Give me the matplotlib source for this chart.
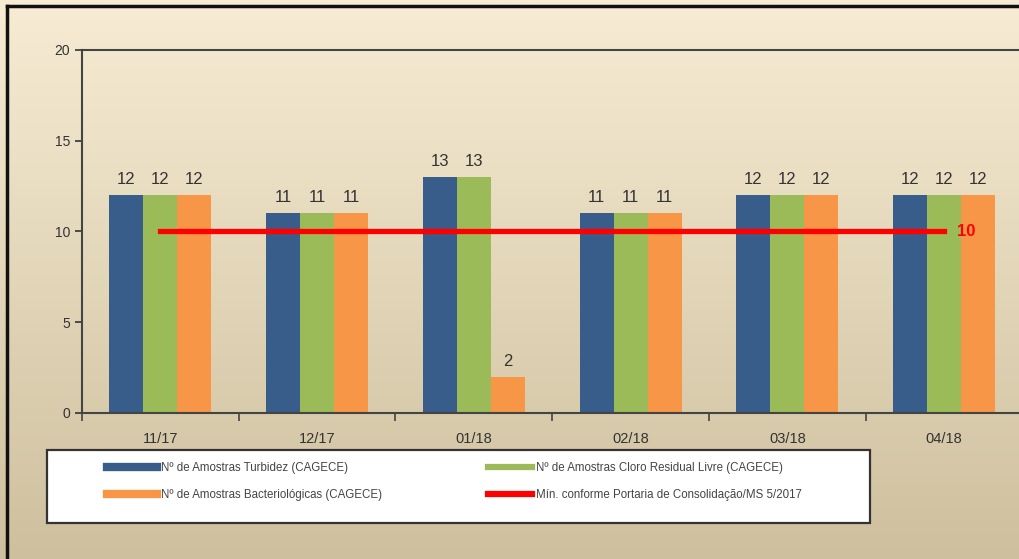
import numpy as np
import matplotlib.pyplot as plt
from matplotlib.lines import Line2D
from matplotlib.patches import Rectangle

# dados
meses = ['11/17', '12/17', '01/18', '02/18', '03/18', '04/18']
turbidez = [12, 11, 13, 11, 12, 12]
cloro = [12, 11, 13, 11, 12, 12]
bacterio = [12, 11, 2, 11, 12, 12]
minimo = [10, 10, 10, 10, 10, 10]

plt.rcParams['font.family'] = ['Liberation Sans', 'DejaVu Sans']

azul = '#385D8A'
verde = '#9BBB59'
laranja = '#F79646'
vermelho = '#FF0000'
texto = '#333333'

fig = plt.figure(figsize=(10.2, 5.59), dpi=100)

# fundo em degradê
bg = fig.add_axes([0, 0, 1, 1], zorder=-10)
top = np.array([247, 236, 212]) / 255
bot = np.array([206, 192, 158]) / 255
t = np.linspace(0, 1, 256)[:, None]
grad = top * (1 - t) + bot * t
bg.imshow(grad[:, None, :].repeat(2, axis=1), aspect='auto', extent=[0, 1, 0, 1])
bg.set_xlim(0, 1)
bg.set_ylim(0, 1)
bg.axis('off')
# moldura escura à esquerda e em cima
bg.plot([0.0065, 0.0065], [0, 0.989], color='#111111', lw=2.5)
bg.plot([0.0065, 1], [0.989, 0.989], color='#111111', lw=2.5)

ax = fig.add_axes([0.0804, 0.2612, 0.922, 0.6494])
ax.set_facecolor('none')

x = np.arange(len(meses))
w = 0.217
ax.bar(x - w, turbidez, w, color=azul, zorder=2)
ax.bar(x, cloro, w, color=verde, zorder=2)
ax.bar(x + w, bacterio, w, color=laranja, zorder=2)

for serie, off in [(turbidez, -w), (cloro, 0), (bacterio, w)]:
    for xi, v in zip(x, serie):
        ax.text(xi + off, v + 0.45, str(v), ha='center', va='bottom',
                fontsize=12, color=texto)

ax.plot(x, minimo, color=vermelho, lw=3.8, zorder=3)
ax.text(x[-1] + 0.08, minimo[-1], str(minimo[-1]), color=vermelho,
        fontsize=12, fontweight='bold', va='center', ha='left', zorder=4)

ax.set_xlim(-0.5, len(meses) - 0.5)
ax.set_ylim(0, 20)
ax.set_yticks([0, 5, 10, 15, 20])
ax.tick_params(axis='y', labelsize=10, colors=texto, length=5, width=1.2)
ax.set_xticks(np.arange(-0.5, len(meses)))
ax.set_xticklabels([])
ax.set_xticks(x, minor=True)
ax.set_xticklabels(meses, minor=True)
ax.tick_params(axis='x', which='major', length=6, width=1.2, colors='#444444')
ax.tick_params(axis='x', which='minor', length=0, labelsize=10.5, colors=texto, pad=14)

for s in ['left', 'bottom', 'top']:
    ax.spines[s].set_color('#444444')
    ax.spines[s].set_linewidth(1.5)
ax.spines['right'].set_visible(False)

# caixa da legenda
bg.add_patch(Rectangle((47 / 1020, 36 / 559), 823 / 1020, 73 / 559,
                       facecolor='white', edgecolor='#333333', lw=1.6, zorder=5))

rotulos1 = ['Nº de Amostras Turbidez (CAGECE)',
            'Nº de Amostras Bacteriológicas (CAGECE)']
rotulos2 = ['Nº de Amostras Cloro Residual Livre (CAGECE)',
            'Mín. conforme Portaria de Consolidação/MS 5/2017']
h1 = [Line2D([], [], color=azul, lw=6), Line2D([], [], color=laranja, lw=6)]
h2 = [Line2D([], [], color=verde, lw=4.5), Line2D([], [], color=vermelho, lw=4.5)]

leg_kw = dict(loc='upper left', frameon=False, fontsize=8.3, borderpad=0,
              borderaxespad=0, labelspacing=1.3, handletextpad=0.35)
leg1 = fig.legend(h1, rotulos1, bbox_to_anchor=(107 / 1020, 1 - 462 / 559),
                  handlelength=4.3, **leg_kw)
leg2 = fig.legend(h2, rotulos2, bbox_to_anchor=(488 / 1020, 1 - 462 / 559),
                  handlelength=3.8, **leg_kw)
for leg in (leg1, leg2):
    leg.set_zorder(6)
    for txt in leg.get_texts():
        txt.set_color('#444444')

fig.savefig('out.png', dpi=100)
